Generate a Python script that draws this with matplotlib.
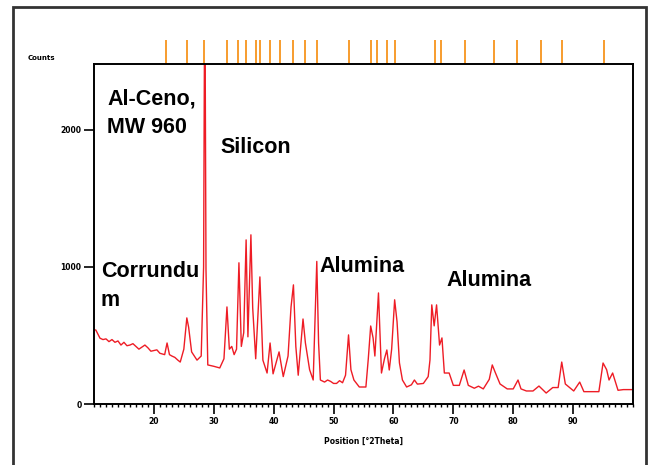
import matplotlib.pyplot as plt
from matplotlib.patches import Rectangle
from matplotlib.ticker import MultipleLocator
import matplotlib.transforms as mtransforms

# diffractogram (2theta, counts)
two_theta = [10.0, 10.3, 11, 11.5, 12, 12.5, 13, 13.5, 14, 14.5, 15, 15.5, 16, 16.5,
             17, 17.5, 18, 18.5, 19, 19.5, 20, 20.5, 21, 21.8, 22.2,
             22.6, 23.0, 23.5, 24.0, 24.4, 25.0, 25.5, 25.8, 26.3, 27.2, 27.9, 28.3, 28.45,
             28.55, 28.7, 29.0, 30.0, 31.0, 31.7, 32.2, 32.6, 33.0, 33.4, 33.8,
             34.2, 34.6, 35.0, 35.4, 35.7, 36.2, 36.5, 37.0, 37.7, 38.2, 38.9,
             39.4, 39.9, 40.9, 41.6, 42.4, 42.9, 43.3, 43.7, 44.1, 44.9, 45.3,
             46.0, 46.6, 47.2, 47.5, 47.8, 48.5, 49.0, 49.5, 50.0, 50.5, 51.0, 51.5,
             52.0, 52.5, 52.9, 53.4, 54.3, 55.4, 55.8, 56.2, 56.6, 56.9, 57.5,
             58.0, 58.5, 58.9, 59.3, 59.7, 60.2, 60.6, 61.0, 61.5, 62.2, 63.0,
             63.5, 64.0, 65.0, 65.8, 66.1, 66.4, 66.8, 67.2, 67.7, 68.1, 68.5,
             69.3, 70.0, 71.0, 71.8, 72.5, 73.5, 74.2, 75.0, 76.0, 76.5, 77.0,
             77.8, 79.0, 80.0, 80.8, 81.3, 82.2, 83.3, 84.3, 85.5, 86.6, 87.5,
             88.1, 88.7, 90.1, 91.1, 91.8, 93.0, 94.3, 95.0, 95.6, 96.0, 96.6,
             97.5, 98.4, 100.0]
counts = [540, 540, 480, 470, 475, 455, 470, 450, 460, 430, 450, 425, 430, 440,
          420, 400, 415, 430, 410, 385, 390, 395, 370, 360, 445,
          360, 350, 340, 320, 306, 400, 628, 560, 380, 320, 350, 1000, 2700,
          2700, 980, 285, 275, 263, 330, 708, 400, 420, 360, 400,
          1030, 420, 520, 1197, 490, 1234, 700, 330, 927, 320, 226,
          445, 220, 380, 200, 350, 708, 869, 420, 210, 620, 445,
          250, 175, 1040, 445, 175, 160, 175, 165, 150, 150, 170, 155,
          210, 504, 250, 175, 124, 124, 330, 569, 482, 350, 810,
          226, 330, 394, 248, 400, 760, 600, 300, 175, 124, 140,
          175, 145, 150, 200, 321, 723, 570, 723, 430, 482, 226,
          226, 136, 136, 248, 136, 115, 130, 110, 180, 285, 230,
          146, 110, 110, 175, 110, 95, 95, 131, 80, 120, 120,
          306, 146, 95, 160, 90, 90, 90, 299, 250, 175, 226,
          100, 105, 105]

# reference pattern positions (orange sticks above the plot)
ref_peaks = [22.1, 25.6, 28.4, 32.2, 34.0, 35.4, 37.0, 37.8, 39.4, 41.0, 43.2,
             45.3, 47.3, 52.5, 56.2, 57.3, 58.9, 60.3, 67.0, 67.9, 71.9, 76.8,
             80.6, 84.6, 88.2, 95.2]

x_ticks = [20, 30, 40, 50, 60, 70, 80, 90]
y_ticks = [0, 1000, 2000]

fig = plt.figure(figsize=(6.49, 4.65), dpi=100)
ax = fig.add_axes([94 / 649, 61 / 465, 539 / 649, 340 / 465])

ax.plot(two_theta, counts, color='#ee1c25', lw=1.0)
ax.set_xlim(10, 100)
ax.set_ylim(0, 2480)

ax.set_xticks(x_ticks)
ax.set_yticks(y_ticks)
ax.xaxis.set_minor_locator(MultipleLocator(1))
ax.tick_params(axis='both', which='major', direction='out', length=7, width=1.2,
               labelsize=5.5, pad=2)
ax.tick_params(axis='x', which='minor', direction='out', length=2.5, width=1)
for lab in ax.get_xticklabels() + ax.get_yticklabels():
    lab.set_fontweight('bold')
for sp in ax.spines.values():
    sp.set_linewidth(1.4)

ax.set_xlabel('Position [°2Theta]', fontsize=5.5, fontweight='bold', labelpad=8)
fig.text(28 / 649, 1 - 58 / 465, 'Counts', fontsize=5, fontweight='bold',
         va='center', ha='left')

# orange reference sticks
trans = mtransforms.blended_transform_factory(ax.transData, ax.transAxes)
ax.vlines(ref_peaks, 1.0, 1.07, colors='#f7941d', lw=1.3, transform=trans,
          clip_on=False)

# annotations
lab_font = dict(fontfamily='Liberation Sans', fontweight='bold', color='black',
                fontsize=15.5, va='top', ha='left')
fig.text(107 / 649, 1 - 88 / 465, 'Al-Ceno,\nMW 960', linespacing=1.5, **lab_font)
fig.text(220 / 649, 1 - 137 / 465, 'Silicon', **lab_font)
fig.text(101 / 649, 1 - 261 / 465, 'Corrundu\nm', linespacing=1.5, **lab_font)
fig.text(319 / 649, 1 - 256 / 465, 'Alumina', **lab_font)
fig.text(446 / 649, 1 - 270 / 465, 'Alumina', **lab_font)

# outer frame of the picture
fig.patches.append(Rectangle((13 / 649, -0.05), 633 / 649, 1.035, fill=False,
                             edgecolor='#333333', lw=2, transform=fig.transFigure))

fig.savefig('out.png', dpi=100)
